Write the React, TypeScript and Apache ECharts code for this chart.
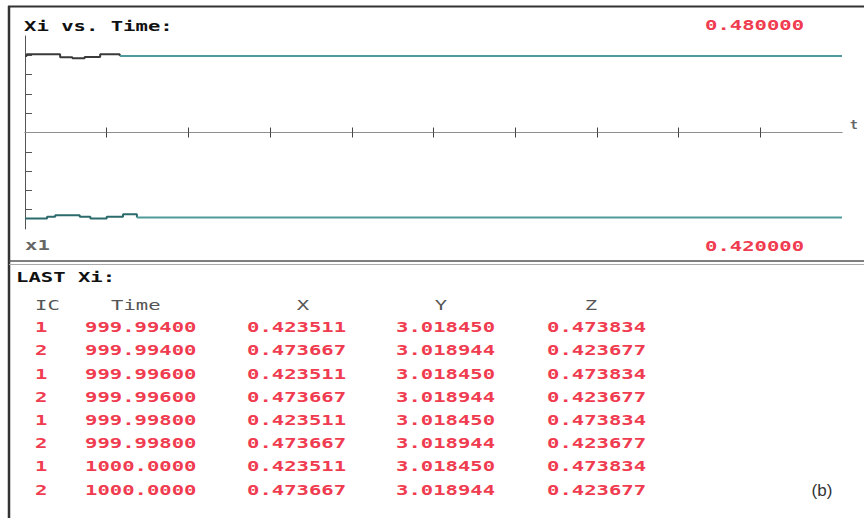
import React, { useEffect, useRef } from "react";
import * as echarts from "echarts";

// ---- plot data (Xi vs. Time) ----
// upper trajectory: transient part, then settled part
const topTransientTime = [0, 2, 43, 58, 73, 92, 116];
const topTransientValue = [0.4738, 0.4743, 0.4734, 0.4731, 0.4735, 0.4743, 0.4738];
const topSettledTime = [116, 1000];
const topSettledValue = [0.4738, 0.4738];
// lower trajectory: transient part, then settled part
const bottomTransientTime = [0, 27, 37, 67, 80, 100, 120, 137];
const bottomTransientValue = [0.4233, 0.4238, 0.4243, 0.4238, 0.4233, 0.4238, 0.4246, 0.4236];
const bottomSettledTime = [137, 1000];
const bottomSettledValue = [0.4236, 0.4236];

const yMin = 0.42;
const yMax = 0.48;
const yStep = 0.006;
const yTickValues = [0.426, 0.432, 0.438, 0.444, 0.456, 0.462, 0.468, 0.474];
const tMin = 0;
const tMax = 1000;
const tStep = 100;
const tTickValues = [100, 200, 300, 400, 500, 600, 700, 800, 900];

// ---- table data (LAST Xi) ----
const tableHeaders = ["IC", "Time", "X", "Y", "Z"];
const icColumn = [1, 2, 1, 2, 1, 2, 1, 2];
const timeColumn = [999.994, 999.994, 999.996, 999.996, 999.998, 999.998, 1000.0, 1000.0];
const xColumn = [0.423511, 0.473667, 0.423511, 0.473667, 0.423511, 0.473667, 0.423511, 0.473667];
const yColumn = [3.01845, 3.018944, 3.01845, 3.018944, 3.01845, 3.018944, 3.01845, 3.018944];
const zColumn = [0.473834, 0.423677, 0.473834, 0.423677, 0.473834, 0.423677, 0.473834, 0.423677];

const RED = "#f03c50";
const MONO = '"DejaVu Sans Mono", monospace';
const SX = 1.42;

function txt(text: string, x: number, y: number, fill: string, opts: any = {}) {
  const align = opts.align || "left";
  const weight = opts.weight || "bold";
  const size = opts.size || 14.5;
  const family = opts.family || MONO;
  return {
    type: "text",
    x,
    y,
    scaleX: opts.scaleX === undefined ? SX : opts.scaleX,
    silent: true,
    style: {
      text,
      fill,
      font: `${weight} ${size}px ${family}`,
      align,
      verticalAlign: "middle",
      textAlign: align,
      textVerticalAlign: "middle",
    },
  };
}

function line(x1: number, y1: number, x2: number, y2: number, stroke: string, w: number) {
  return { type: "line", silent: true, shape: { x1, y1, x2, y2 }, style: { stroke, lineWidth: w } };
}

function lineSeries(ts: number[], vs: number[], color: string) {
  return {
    type: "line",
    xAxisIndex: 0,
    step: "end",
    symbol: "none",
    silent: true,
    lineStyle: { width: 2, color },
    itemStyle: { color },
    data: ts.map((t, i) => [t, vs[i]]),
  };
}

export default function App() {
  const ref = useRef<HTMLDivElement>(null);
  useEffect(() => {
    if (!ref.current) return;
    const chart = echarts.init(ref.current, null, { renderer: "svg" });

    const gridTop = 36;
    const gridBottom = 289;
    const gridH = 518 - gridTop - gridBottom;
    const midOffset = -gridH / 2;

    const graphics: any[] = [];
    // frame
    graphics.push(line(8, 6.5, 864, 6.5, "#333", 2));
    graphics.push(line(9, 6, 9, 518, "#333", 2.5));
    graphics.push(line(9, 261, 864, 261, "#555", 1.5));
    graphics.push(line(9, 264.5, 864, 264.5, "#aaa", 1));

    // plot texts
    graphics.push(txt("Xi vs. Time:", 24, 26, "#111"));
    graphics.push(txt(yMax.toFixed(6), 705, 25, RED));
    graphics.push(txt(yMin.toFixed(6), 705, 246, RED));
    graphics.push(txt("x1", 25, 245, "#666"));

    // table
    graphics.push(txt("LAST Xi:", 16, 277, "#111"));
    const headerY = 305;
    const colX = [35, 111, 303, 441, 591];
    const colAlign = ["left", "left", "center", "center", "center"];
    tableHeaders.forEach((h, i) => {
      graphics.push(txt(h, colX[i], headerY, "#555", { align: colAlign[i], weight: "normal" }));
    });
    const rowY0 = 327;
    const rowStep = 23.2;
    icColumn.forEach((ic, r) => {
      const y = rowY0 + r * rowStep;
      graphics.push(txt(String(ic), 35, y, RED));
      graphics.push(txt(timeColumn[r].toPrecision(8), 85, y, RED));
      graphics.push(txt(xColumn[r].toFixed(6), 247, y, RED));
      graphics.push(txt(yColumn[r].toFixed(6), 396, y, RED));
      graphics.push(txt(zColumn[r].toFixed(6), 547, y, RED));
    });

    graphics.push(
      txt("(b)", 822, 490, "#333", { align: "center", weight: "normal", size: 17, family: '"Liberation Sans", Arial, sans-serif', scaleX: 1 })
    );

    const axisCommon = {
      type: "value",
      min: tMin,
      max: tMax,
      interval: tStep,
      position: "bottom",
      offset: midOffset,
      splitLine: { show: false },
      axisLabel: { show: false },
      axisLine: { show: true, onZero: false, lineStyle: { color: "#8c9090", width: 1 } },
    };

    chart.setOption({
      animation: false,
      backgroundColor: "#ffffff",
      grid: { left: 25, right: 22, top: gridTop, bottom: gridBottom, containLabel: false },
      xAxis: [
        {
          ...axisCommon,
          name: "t",
          nameLocation: "end",
          nameGap: 8,
          nameTextStyle: { color: "#666", fontFamily: MONO, fontWeight: "bold", fontSize: 13, verticalAlign: "bottom", padding: [0, 0, 2, 0] },
          axisTick: { show: true, inside: false, length: 5, customValues: tTickValues, lineStyle: { color: "#444", width: 1 } },
        },
        {
          ...axisCommon,
          axisTick: { show: true, inside: true, length: 5, customValues: tTickValues, lineStyle: { color: "#444", width: 1 } },
        },
      ],
      yAxis: {
        type: "value",
        min: yMin,
        max: yMax,
        interval: yStep,
        splitLine: { show: false },
        axisLabel: { show: false },
        axisLine: { show: true, onZero: false, lineStyle: { color: "#555", width: 1 } },
        axisTick: { show: true, inside: true, length: 7, customValues: yTickValues, lineStyle: { color: "#555", width: 1 } },
      },
      series: [
        lineSeries(topTransientTime, topTransientValue, "#3a3a3a"),
        lineSeries(topSettledTime, topSettledValue, "#4f9a9a"),
        lineSeries(bottomTransientTime, bottomTransientValue, "#2d6a6c"),
        lineSeries(bottomSettledTime, bottomSettledValue, "#4f9a9a"),
      ],
      graphic: { elements: graphics },
    });

    return () => chart.dispose();
  }, []);

  return (
    <div
      ref={ref}
      style={{ position: "absolute", left: 0, top: 0, width: 864, height: 518, background: "#fff" }}
    />
  );
}
